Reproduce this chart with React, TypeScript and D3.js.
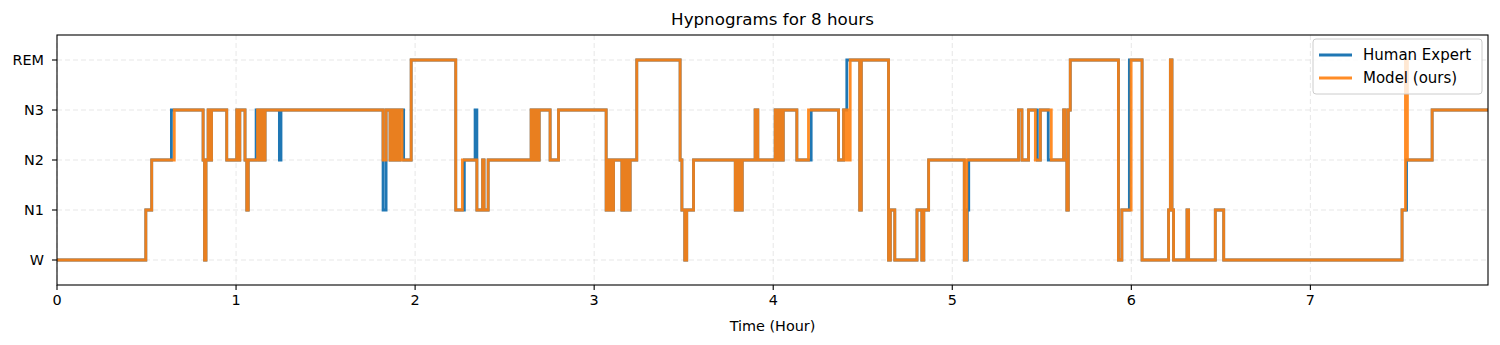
import { useEffect } from 'react'
import * as d3 from 'd3'

const stageLabels = ['W', 'N1', 'N2', 'N3', 'REM']
const hourTicks = [0, 1, 2, 3, 4, 5, 6, 7]
const totalHours = 7.992

// [hour where stage starts, stage index] — model prediction
const modelHypnogram: [number, number][] = [
  [0, 0], [0.496, 1], [0.529, 2], [0.655, 3], [0.816, 2], [0.824, 0], [0.832, 2], [0.844, 3],
  [0.852, 2], [0.863, 3], [0.948, 2], [1.004, 3], [1.012, 2], [1.021, 3], [1.05, 2], [1.06, 1],
  [1.068, 2], [1.12, 3], [1.128, 2], [1.142, 3], [1.151, 2], [1.162, 3], [1.821, 2], [1.838, 3],
  [1.86, 2], [1.872, 3], [1.883, 2], [1.894, 3], [1.905, 2], [1.916, 3], [1.927, 2], [1.978, 4],
  [2.227, 1], [2.264, 2], [2.345, 1], [2.377, 2], [2.385, 1], [2.408, 2], [2.648, 3], [2.659, 2],
  [2.67, 3], [2.682, 2], [2.693, 3], [2.754, 2], [2.801, 3], [3.067, 1], [3.075, 2], [3.084, 1],
  [3.092, 2], [3.101, 1], [3.108, 2], [3.155, 1], [3.165, 2], [3.173, 1], [3.184, 2], [3.193, 1],
  [3.201, 2], [3.238, 4], [3.48, 2], [3.49, 1], [3.506, 0], [3.517, 1], [3.555, 2], [3.788, 1],
  [3.796, 2], [3.804, 1], [3.813, 2], [3.821, 1], [3.827, 2], [3.899, 3], [3.914, 2], [4.011, 3],
  [4.022, 2], [4.034, 3], [4.045, 2], [4.056, 3], [4.132, 2], [4.197, 3], [4.365, 2], [4.393, 3],
  [4.402, 2], [4.413, 3], [4.422, 2], [4.43, 4], [4.483, 1], [4.492, 4], [4.644, 0], [4.654, 1],
  [4.679, 0], [4.803, 1], [4.83, 0], [4.841, 1], [4.868, 2], [5.067, 0], [5.081, 2], [5.37, 3],
  [5.389, 2], [5.426, 3], [5.464, 2], [5.492, 3], [5.553, 2], [5.622, 3], [5.631, 2], [5.64, 1],
  [5.648, 3], [5.659, 4], [5.928, 0], [5.947, 1], [5.999, 4], [6.06, 0], [6.208, 1], [6.218, 4],
  [6.227, 1], [6.236, 0], [6.311, 1], [6.32, 0], [6.469, 1], [6.516, 0], [7.512, 1], [7.531, 4],
  [7.542, 2], [7.68, 3],
]

// human expert scoring
const humanHypnogram: [number, number][] = [
  [0, 0], [0.496, 1], [0.529, 2], [0.639, 3], [0.816, 2], [0.824, 0], [0.832, 2], [0.844, 3],
  [0.852, 2], [0.863, 3], [0.948, 2], [1.004, 3], [1.012, 2], [1.021, 3], [1.05, 2], [1.06, 1],
  [1.068, 2], [1.112, 3], [1.128, 2], [1.142, 3], [1.151, 2], [1.162, 3], [1.242, 2], [1.251, 3],
  [1.821, 1], [1.838, 3], [1.86, 2], [1.872, 3], [1.883, 2], [1.894, 3], [1.905, 2], [1.916, 3],
  [1.936, 2], [1.978, 4], [2.227, 1], [2.275, 2], [2.335, 3], [2.345, 1], [2.377, 2], [2.385, 1],
  [2.408, 2], [2.648, 3], [2.659, 2], [2.67, 3], [2.682, 2], [2.693, 3], [2.754, 2], [2.801, 3],
  [3.067, 1], [3.075, 2], [3.084, 1], [3.092, 2], [3.101, 1], [3.108, 2], [3.155, 1], [3.165, 2],
  [3.173, 1], [3.184, 2], [3.193, 1], [3.201, 2], [3.238, 4], [3.48, 2], [3.49, 1], [3.506, 0],
  [3.517, 1], [3.555, 2], [3.788, 1], [3.796, 2], [3.804, 1], [3.813, 2], [3.821, 1], [3.827, 2],
  [3.899, 3], [3.914, 2], [4.011, 3], [4.022, 2], [4.034, 3], [4.045, 2], [4.056, 3], [4.132, 2],
  [4.212, 3], [4.365, 2], [4.393, 3], [4.411, 4], [4.483, 1], [4.492, 4], [4.644, 0], [4.654, 1],
  [4.679, 0], [4.803, 1], [4.83, 0], [4.841, 1], [4.868, 2], [5.067, 0], [5.084, 1], [5.092, 2],
  [5.37, 3], [5.389, 2], [5.426, 3], [5.475, 2], [5.492, 3], [5.536, 2], [5.622, 3], [5.631, 2],
  [5.64, 1], [5.648, 3], [5.659, 4], [5.928, 0], [5.947, 1], [5.989, 4], [6.06, 0], [6.208, 1],
  [6.218, 4], [6.227, 1], [6.236, 0], [6.311, 1], [6.32, 0], [6.469, 1], [6.516, 0], [7.512, 1],
  [7.537, 2], [7.68, 3],
]

const W = 1500
const H = 345
const margin = { top: 35, right: 12, bottom: 60, left: 57 }
const font = 'DejaVu Sans, sans-serif'

function withEnd(d: [number, number][]): [number, number][] {
  return [...d, [totalHours, d[d.length - 1][1]]]
}

export default function App() {
  useEffect(() => {
    document.body.style.margin = '0'
  }, [])

  const x = d3.scaleLinear().domain([0, totalHours]).range([margin.left, W - margin.right])
  const y = d3.scaleLinear().domain([-0.5, 4.5]).range([H - margin.bottom, margin.top])

  const line = d3.line<[number, number]>()
    .x(d => x(d[0]))
    .y(d => y(d[1]))
    .curve(d3.curveStepAfter)

  const x0 = margin.left
  const x1 = W - margin.right
  const y0 = margin.top
  const y1 = H - margin.bottom

  return (
    <svg width={W} height={H} style={{ display: 'block', fontFamily: font }}>
      <rect width={W} height={H} fill="#fff" />
      {/* grid */}
      {hourTicks.map(t => (
        <line key={'gx' + t} x1={x(t)} x2={x(t)} y1={y0} y2={y1} stroke="#b0b0b0" strokeOpacity={0.3} strokeDasharray="5,3" />
      ))}
      {stageLabels.map((s, i) => (
        <line key={'gy' + s} x1={x0} x2={x1} y1={y(i)} y2={y(i)} stroke="#b0b0b0" strokeOpacity={0.3} strokeDasharray="5,3" />
      ))}
      {/* data */}
      <path d={line(withEnd(humanHypnogram)) || ''} fill="none" stroke="#1f77b4" strokeWidth={2.8} />
      <path d={line(withEnd(modelHypnogram)) || ''} fill="none" stroke="#ff7f0e" strokeOpacity={0.9} strokeWidth={2.8} />
      {/* frame */}
      <rect x={x0} y={y0} width={x1 - x0} height={y1 - y0} fill="none" stroke="#000" strokeWidth={1.1} />
      {/* x axis */}
      {hourTicks.map(t => (
        <g key={'tx' + t}>
          <line x1={x(t)} x2={x(t)} y1={y1} y2={y1 + 5} stroke="#000" strokeWidth={1.1} />
          <text x={x(t)} y={y1 + 20} textAnchor="middle" fontSize={14.4} fill="#000">{t}</text>
        </g>
      ))}
      {/* y axis */}
      {stageLabels.map((s, i) => (
        <g key={'ty' + s}>
          <line x1={x0 - 5} x2={x0} y1={y(i)} y2={y(i)} stroke="#000" strokeWidth={1.1} />
          <text x={x0 - 13} y={y(i)} dy="0.35em" textAnchor="end" fontSize={14.4} fill="#000">{s}</text>
        </g>
      ))}
      <text x={(x0 + x1) / 2} y={y1 + 46} textAnchor="middle" fontSize={14.4} fill="#000">Time (Hour)</text>
      <text x={(x0 + x1) / 2} y={25} textAnchor="middle" fontSize={16.7} fill="#000">Hypnograms for 8 hours</text>
      {/* legend */}
      <g>
        <rect x={1313} y={39} width={169} height={55} rx={3} fill="#fff" fillOpacity={0.8} stroke="#ccc" />
        <line x1={1319} x2={1352} y1={55} y2={55} stroke="#1f77b4" strokeWidth={2.8} />
        <text x={1363} y={55} dy="0.35em" fontSize={15} fill="#000">Human Expert</text>
        <line x1={1319} x2={1352} y1={78} y2={78} stroke="#ff7f0e" strokeOpacity={0.9} strokeWidth={2.8} />
        <text x={1363} y={78} dy="0.35em" fontSize={15} fill="#000">Model (ours)</text>
      </g>
    </svg>
  )
}
